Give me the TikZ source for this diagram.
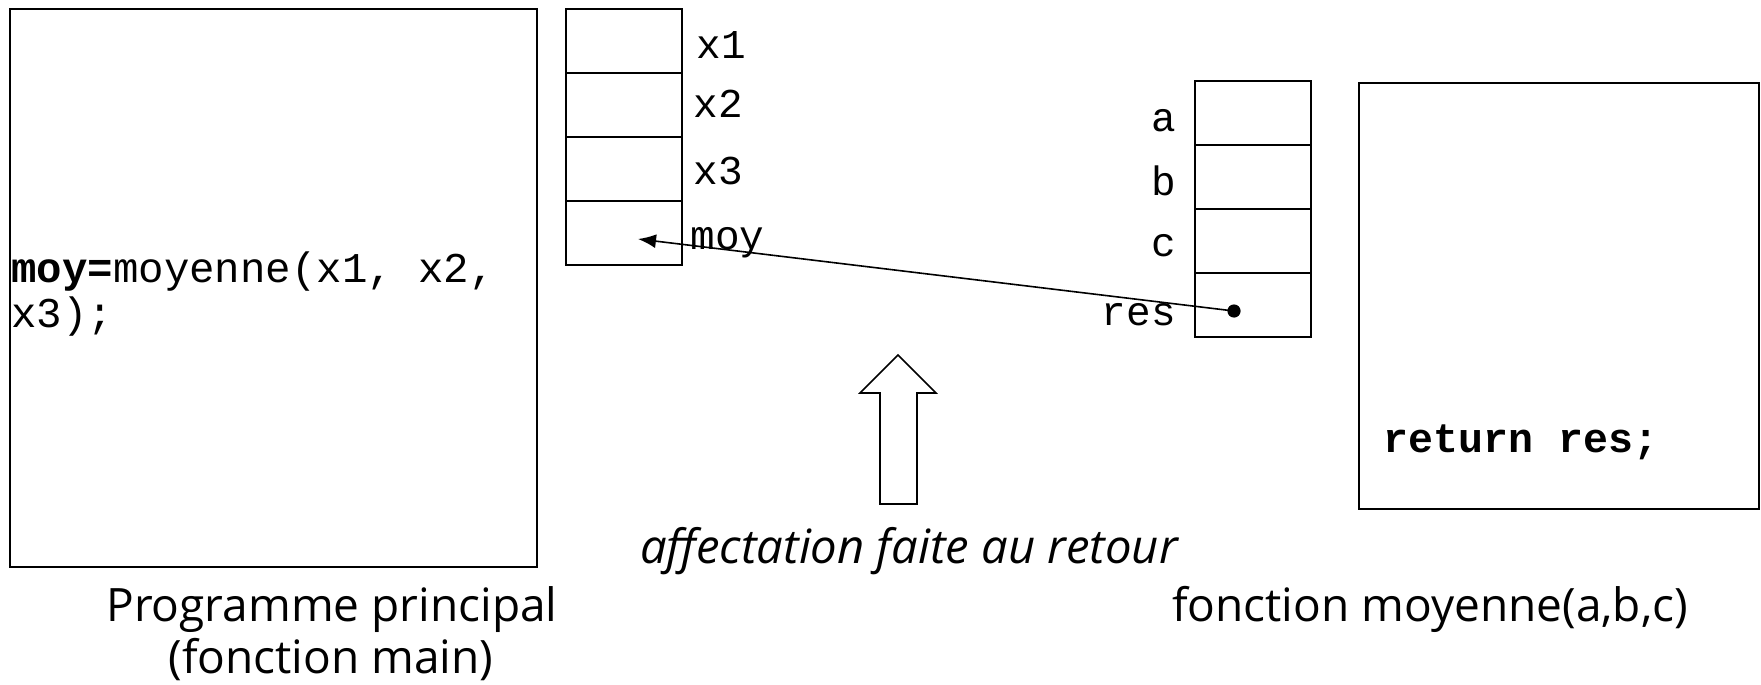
\documentclass[tikz,border=0pt]{standalone}
\usepackage{fontspec}
\setmainfont{Open Sans}
\setmonofont{Liberation Mono}
\usetikzlibrary{arrows.meta}
\begin{document}
\begin{tikzpicture}[x=0.5pt,y=-0.5pt,
  frame/.style={draw,line width=1.1pt},
  cell/.style={draw,line width=1pt,minimum width=58pt,minimum height=32pt,
    inner sep=0pt,anchor=north west},
  code/.style={inner sep=0pt,font=\fontsize{20.5pt}{24pt}\selectfont\ttfamily},
  caption/.style={inner sep=0pt,font=\fontsize{23pt}{28pt}\selectfont},
  dot/.style={circle,fill,inner sep=0pt,minimum size=6.6pt},
  link/.style={line width=0.8pt,-{Latex[length=9pt,width=7pt]}},
  bigarrow/.style={draw,line width=0.8pt}]
\useasboundingbox (0,0) rectangle (1761,685);

% main program frame
\node[frame,anchor=north west,minimum width=263.5pt,minimum height=279pt,inner sep=0pt]
  (main) at (9,8) {};
\node[code,anchor=base west,font=\fontsize{21.2pt}{24pt}\selectfont\ttfamily]
  (call1) at (11,282) {\textbf{moy=}moyenne(x1, x2,};
\node[code,anchor=base west,font=\fontsize{21.2pt}{24pt}\selectfont\ttfamily]
  (call2) at (11,327) {x3);};

% variables of the main program
\node[cell] (x1) at (565,8) {};
\node[cell] (x2) at (565,72) {};
\node[cell] (x3) at (565,136) {};
\node[cell] (moy) at (565,200) {};
\node[code,anchor=base west] (lx1) at (696,58) {x1};
\node[code,anchor=base west] (lx2) at (693,117) {x2};
\node[code,anchor=base west] (lx3) at (693,184) {x3};
\node[code,anchor=base west] (lmoy) at (690,249) {moy};

% parameters and local of the function
\node[cell] (a) at (1194,80) {};
\node[cell] (b) at (1194,144) {};
\node[cell] (c) at (1194,208) {};
\node[cell] (res) at (1194,272) {};
\node[code,anchor=base east] (la) at (1176,131) {a};
\node[code,anchor=base east] (lb) at (1176,195) {b};
\node[code,anchor=base east] (lc) at (1176,256) {c};
\node[code,anchor=base east] (lres) at (1176,325) {res};

% function frame
\node[frame,anchor=north west,minimum width=200pt,minimum height=213pt,inner sep=0pt]
  (fn) at (1358,82) {};
\node[code,anchor=base west,font=\fontsize{20.8pt}{24pt}\selectfont\ttfamily\bfseries]
  (ret) at (1383,452) {return res;};

% value copied back on return
\node[dot] (val) at (1234,311) {};
\coordinate (into) at (638,239);
\draw[link] (val.center) -- (into);

% hollow block arrow
\draw[bigarrow] (880,504) -- (880,393) -- (860,393) -- (898,355) -- (936,393)
  -- (917,393) -- (917,504) -- cycle;

% captions
\node[caption,anchor=base,font=\fontsize{23.6pt}{28pt}\selectfont\itshape]
  (aff) at (909,563) {affectation faite au retour};
\node[caption,anchor=base] (pp1) at (332,621) {Programme principal};
\node[caption,anchor=base] (pp2) at (331,673) {(fonction main)};
\node[caption,anchor=base] (fm) at (1430,621) {fonction moyenne(a,b,c)};
\end{tikzpicture}
\end{document}
